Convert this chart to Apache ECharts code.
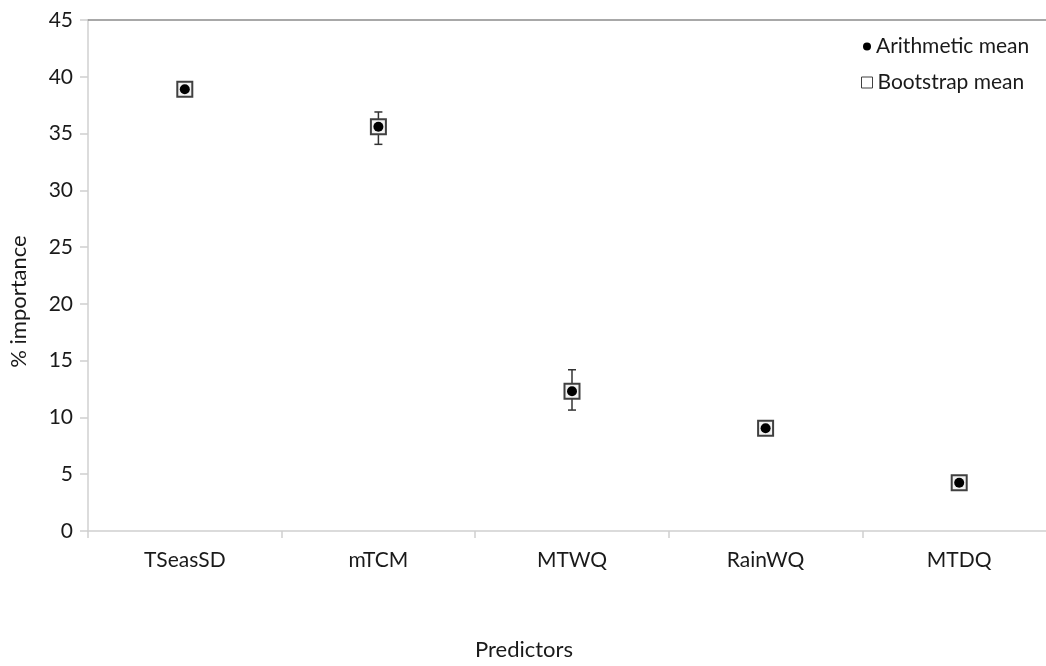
<!DOCTYPE html>
<html lang="en">
<head>
  <meta charset="UTF-8">
  <title>% importance by predictor - ECharts</title>
  <script src="https://cdn.jsdelivr.net/npm/echarts@6.0.0/dist/echarts.min.js"></script>
  <style>
    html, body { margin: 0; padding: 0; background: #fff; overflow: hidden; }
  </style>
</head>
<body>
  <!-- Chart container (a little wider than the window: the last category runs past the edge) -->
  <div id="main" style="width: 1056px; height: 666px;"></div>

  <script>
    // Data
    const categories = ['TSeasSD', 'mTCM', 'MTWQ', 'RainWQ', 'MTDQ'];
    const arithmeticMean = [38.9, 35.6, 12.3, 9.05, 4.25];
    const bootstrapMean = [38.9, 35.6, 12.3, 9.05, 4.25];
    const errLow = [38.5, 34.05, 10.65, 8.8, 4.0];
    const errHigh = [39.4, 36.9, 14.2, 9.3, 4.5];
    const yTicks = [0, 5, 10, 15, 20, 25, 30, 35, 40, 45];

    const font = 'Lato, "Open Sans", sans-serif';
    const textColor = '#1a1a1a';
    const fs = 21;

    let myChart = echarts.init(document.getElementById('main'));

    // error bar rows: [categoryIndex, low, high]
    const errData = categories.map((c, i) => [i, errLow[i], errHigh[i]]);

    const options = {
      animation: false,
      textStyle: { fontFamily: font },
      grid: { left: 88, right: 0, top: 20, bottom: 134 },
      legend: [
        {
          left: 858, top: 31, orient: 'vertical',
          itemWidth: 8, itemHeight: 8,
          textStyle: { fontSize: fs, color: textColor, fontFamily: font },
          data: [{ name: 'Arithmetic mean', icon: 'circle' }]
        },
        {
          left: 856, top: 67, orient: 'vertical',
          itemWidth: 11, itemHeight: 11,
          textStyle: { fontSize: fs, color: textColor, fontFamily: font },
          data: [{ name: 'Bootstrap mean', icon: 'rect', itemStyle: { color: '#fff', borderColor: '#404040', borderWidth: 1 } }]
        }
      ],
      xAxis: [
        {
          type: 'category',
          data: categories,
          name: 'Predictors',
          nameLocation: 'middle',
          nameGap: 108,
          // title sits left of the plot centre, as in the source figure
          nameTextStyle: { fontSize: 22, color: textColor, padding: [0, 96, 0, 0] },
          axisLine: { lineStyle: { color: '#d0d0d0', width: 1.5 } },
          axisTick: { show: true, length: 7, lineStyle: { color: '#d0d0d0', width: 1.5 } },
          axisLabel: { fontSize: fs, color: textColor, margin: 19 },
          splitLine: { show: false }
        },
        {
          // top border of the plot
          type: 'category',
          position: 'top',
          data: categories,
          axisLine: { lineStyle: { color: '#8c8c8c', width: 1.5 } },
          axisTick: { show: false },
          axisLabel: { show: false }
        }
      ],
      yAxis: {
        type: 'value',
        min: yTicks[0],
        max: yTicks[yTicks.length - 1],
        interval: 5,
        name: '% importance',
        nameLocation: 'middle',
        nameGap: 58,
        nameRotate: 90,
        nameTextStyle: { fontSize: 22, color: textColor, padding: [0, 52, 0, 0] },
        axisLine: { show: true, lineStyle: { color: '#d0d0d0', width: 1.5 } },
        axisTick: { show: true, length: 8, lineStyle: { color: '#d0d0d0', width: 1.5 } },
        axisLabel: { fontSize: fs, color: textColor, margin: 15 },
        splitLine: { show: false }
      },
      series: [
        {
          name: 'error',
          type: 'custom',
          data: errData,
          z: 1,
          renderItem: function (params, api) {
            const x = api.value(0);
            const top = api.coord([x, api.value(2)]);
            const bot = api.coord([x, api.value(1)]);
            const cap = 4;
            const st = { stroke: '#333', lineWidth: 1.5 };
            return {
              type: 'group',
              children: [
                { type: 'line', shape: { x1: top[0], y1: top[1], x2: bot[0], y2: bot[1] }, style: st },
                { type: 'line', shape: { x1: top[0] - cap, y1: top[1], x2: top[0] + cap, y2: top[1] }, style: st },
                { type: 'line', shape: { x1: bot[0] - cap, y1: bot[1], x2: bot[0] + cap, y2: bot[1] }, style: st }
              ]
            };
          }
        },
        {
          name: 'Bootstrap mean',
          type: 'scatter',
          data: bootstrapMean,
          symbol: 'rect',
          symbolSize: 15,
          z: 2,
          itemStyle: { color: '#f2f2f2', borderColor: '#404040', borderWidth: 2, opacity: 1 }
        },
        {
          name: 'Arithmetic mean',
          type: 'scatter',
          data: arithmeticMean,
          symbol: 'circle',
          symbolSize: 10,
          z: 3,
          itemStyle: { color: '#000', opacity: 1 }
        }
      ]
    };

    myChart.setOption(options);
  </script>
</body>
</html>
